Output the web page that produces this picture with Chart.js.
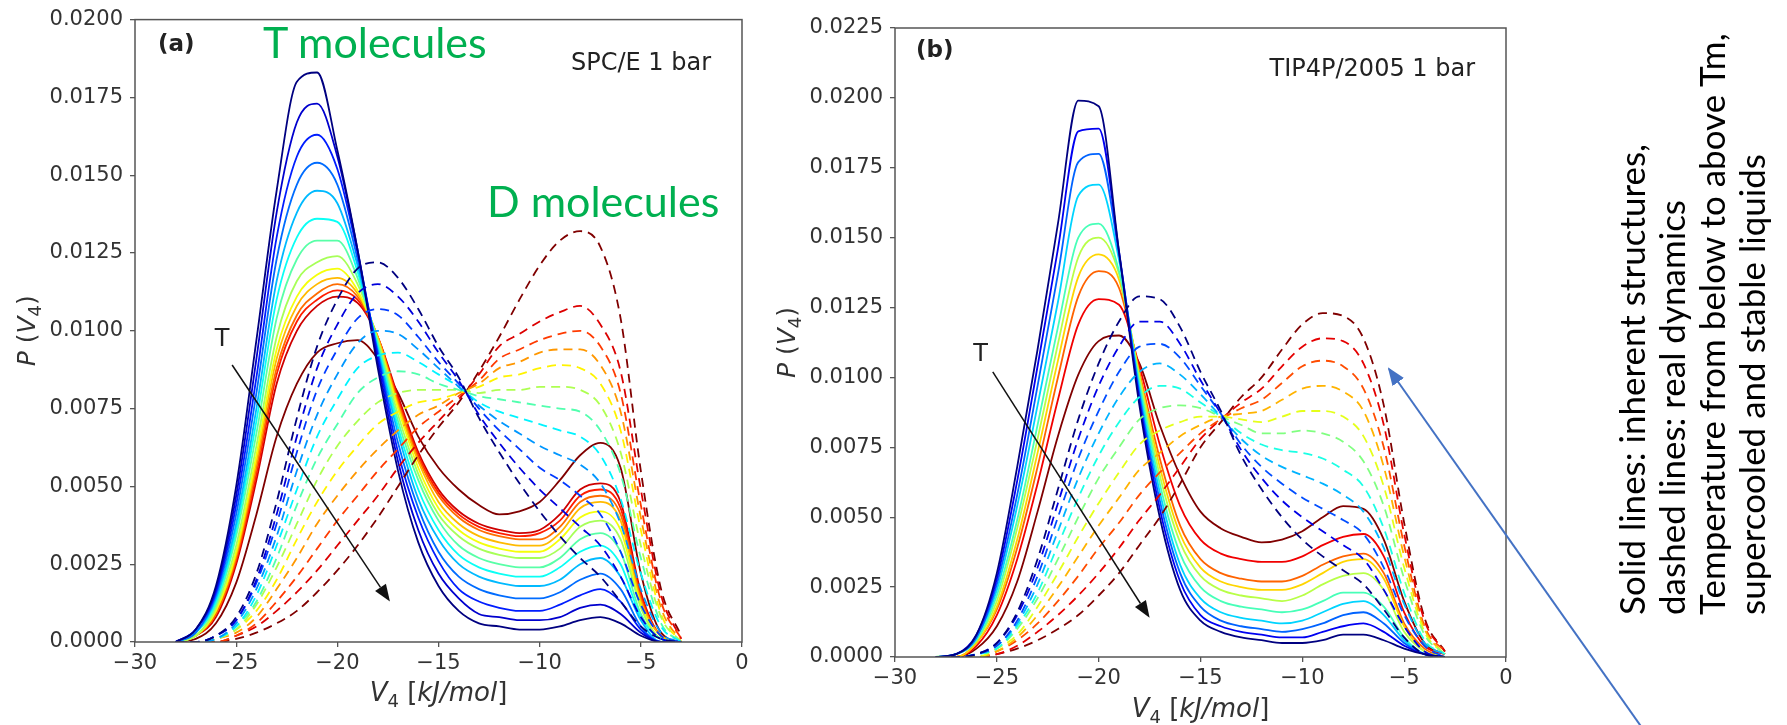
<!DOCTYPE html>
<html>
<head>
<meta charset="utf-8">
<script src="https://cdn.jsdelivr.net/npm/chart.js@4.4.1/dist/chart.umd.min.js"></script>
<style>
  html, body { margin: 0; padding: 0; background: #fff; }
  body { width: 1787px; height: 725px; position: relative; overflow: hidden; }
  canvas { position: absolute; top: 0; }
  #panelA { left: 0; }
  #panelB { left: 760px; }
  svg { position: absolute; left: 0; top: 0; }
</style>
</head>
<body>
<canvas id="panelA" width="770" height="725"></canvas>
<canvas id="panelB" width="800" height="725"></canvas>
<svg width="1787" height="725">
  <defs>
    <marker id="blueHead" markerWidth="18" markerHeight="14" refX="16" refY="7" orient="auto" markerUnits="userSpaceOnUse">
      <path d="M0,0 L18,7 L0,14 z" fill="#4472C4"/>
    </marker>
  </defs>
  <text x="263" y="58" font-family="Lato" font-size="43" fill="#00B050">T molecules</text>
  <text x="487" y="217" font-family="Lato" font-size="43" fill="#00B050">D molecules</text>
  <line x1="1645" y1="732" x2="1389" y2="369" stroke="#4472C4" stroke-width="2" marker-end="url(#blueHead)"/>
  <g font-family="Lato" font-size="35" fill="#000">
    <text transform="translate(1645,615) rotate(-90)">Solid lines: inherent structures,</text>
    <text transform="translate(1685,615) rotate(-90)">dashed lines: real dynamics</text>
    <text transform="translate(1725,615) rotate(-90)">Temperature from below to above Tm,</text>
    <text transform="translate(1765,615) rotate(-90)">supercooled and stable liquids</text>
  </g>
</svg>
<script>
// V4 grid (kJ/mol) shared by every curve
const v4 = [-28,-27,-26,-25,-24,-23,-22,-21,-20,-19,-18,-17,-16,-15,-14,-13,-12,-11,-10,-9,-8,-7,-6,-5,-4,-3];

// panel (a) SPC/E, solid = inherent structures, one row per V4 value, cold -> hot
const solidA = [
  [0,0,0,0,0,0,0,0,0,0,0,0,0,0],
  [0.0004,0.0004,0.0004,0.0003,0.0003,0.0003,0.0003,0.0002,0.0002,0.0002,0.0002,0.0002,0.0002,0.0001],
  [0.0018,0.0017,0.0016,0.0015,0.0014,0.0013,0.0012,0.0011,0.0010,0.0010,0.0009,0.0009,0.0008,0.0006],
  [0.0050,0.0047,0.0044,0.0041,0.0038,0.0036,0.0034,0.0031,0.0029,0.0028,0.0027,0.0026,0.0025,0.0019],
  [0.0097,0.0091,0.0085,0.0080,0.0075,0.0071,0.0067,0.0063,0.0060,0.0058,0.0056,0.0054,0.0052,0.0041],
  [0.0145,0.0138,0.0130,0.0123,0.0116,0.0110,0.0104,0.0098,0.0094,0.0091,0.0088,0.0086,0.0083,0.0066],
  [0.0180,0.0167,0.0156,0.0147,0.0138,0.0130,0.0123,0.0116,0.0111,0.0108,0.0105,0.0103,0.0100,0.0083],
  [0.0183,0.0173,0.0163,0.0154,0.0145,0.0136,0.0129,0.0122,0.0118,0.0115,0.0112,0.0110,0.0108,0.0093],
  [0.0158,0.0156,0.0152,0.0147,0.0141,0.0135,0.0129,0.0124,0.0120,0.0117,0.0115,0.0113,0.0111,0.0096],
  [0.0126,0.0126,0.0125,0.0123,0.0121,0.0119,0.0117,0.0115,0.0113,0.0112,0.0111,0.0110,0.0109,0.0097],
  [0.0088,0.0090,0.0092,0.0093,0.0094,0.0095,0.0096,0.0097,0.0097,0.0098,0.0098,0.0098,0.0098,0.0091],
  [0.0055,0.0058,0.0061,0.0064,0.0067,0.0069,0.0071,0.0073,0.0075,0.0076,0.0077,0.0078,0.0079,0.0080],
  [0.0032,0.0036,0.0040,0.0043,0.0046,0.0049,0.0052,0.0054,0.0056,0.0058,0.0059,0.0060,0.0061,0.0066],
  [0.0018,0.0022,0.0026,0.0029,0.0033,0.0036,0.0039,0.0041,0.0043,0.0045,0.0047,0.0048,0.0049,0.0056],
  [0.0010,0.0014,0.0017,0.0021,0.0025,0.0028,0.0031,0.0034,0.0036,0.0038,0.0040,0.0041,0.0042,0.0049],
  [0.0006,0.0009,0.0013,0.0017,0.0021,0.0024,0.0027,0.0030,0.0032,0.0034,0.0036,0.0037,0.0038,0.0044],
  [0.0005,0.0008,0.0011,0.0015,0.0019,0.0022,0.0025,0.0028,0.0030,0.0032,0.0034,0.0035,0.0036,0.0041],
  [0.0004,0.0007,0.0010,0.0014,0.0018,0.0021,0.0024,0.0027,0.0029,0.0031,0.0033,0.0034,0.0035,0.0042],
  [0.0004,0.0007,0.0010,0.0014,0.0018,0.0021,0.0024,0.0027,0.0029,0.0031,0.0033,0.0035,0.0036,0.0045],
  [0.0005,0.0008,0.0012,0.0016,0.0020,0.0024,0.0027,0.0030,0.0033,0.0035,0.0037,0.0039,0.0041,0.0052],
  [0.0007,0.0011,0.0015,0.0020,0.0025,0.0029,0.0033,0.0037,0.0040,0.0043,0.0045,0.0047,0.0049,0.0060],
  [0.0008,0.0012,0.0017,0.0022,0.0027,0.0031,0.0035,0.0039,0.0042,0.0045,0.0047,0.0049,0.0051,0.0064],
  [0.0006,0.0009,0.0013,0.0017,0.0021,0.0025,0.0029,0.0033,0.0036,0.0039,0.0041,0.0043,0.0045,0.0056],
  [0.0002,0.0003,0.0004,0.0005,0.0007,0.0008,0.0009,0.0011,0.0012,0.0013,0.0014,0.0015,0.0016,0.0022],
  [0,0,0,0,0,0.0001,0.0001,0.0001,0.0001,0.0002,0.0002,0.0002,0.0002,0.0003],
  [0,0,0,0,0,0,0,0,0,0,0,0,0,0]
];

// panel (a) SPC/E, dashed = real dynamics
const dashedA = [
  [0,0,0,0,0,0,0,0,0,0,0,0],
  [0,0,0,0,0,0,0,0,0,0,0,0],
  [0.0002,0.0002,0.0002,0.0001,0.0001,0.0001,0.0001,0.0001,0.0001,0,0,0],
  [0.0008,0.0007,0.0007,0.0006,0.0005,0.0005,0.0004,0.0004,0.0003,0.0002,0.0002,0.0001],
  [0.0022,0.0020,0.0019,0.0017,0.0015,0.0013,0.0012,0.0010,0.0008,0.0006,0.0005,0.0003],
  [0.0045,0.0041,0.0038,0.0034,0.0031,0.0027,0.0024,0.0020,0.0017,0.0013,0.0010,0.0006],
  [0.0072,0.0066,0.0061,0.0055,0.0049,0.0044,0.0038,0.0033,0.0027,0.0021,0.0016,0.0010],
  [0.0095,0.0088,0.0081,0.0073,0.0066,0.0059,0.0052,0.0045,0.0038,0.0030,0.0023,0.0016],
  [0.0110,0.0102,0.0094,0.0086,0.0078,0.0070,0.0063,0.0055,0.0047,0.0039,0.0031,0.0023],
  [0.0120,0.0112,0.0104,0.0096,0.0088,0.0080,0.0071,0.0063,0.0055,0.0047,0.0039,0.0031],
  [0.0122,0.0115,0.0107,0.0100,0.0092,0.0085,0.0077,0.0070,0.0062,0.0055,0.0047,0.0040],
  [0.0117,0.0111,0.0105,0.0099,0.0093,0.0087,0.0080,0.0074,0.0068,0.0062,0.0056,0.0050],
  [0.0107,0.0103,0.0098,0.0094,0.0090,0.0086,0.0081,0.0077,0.0073,0.0069,0.0064,0.0060],
  [0.0095,0.0093,0.0090,0.0088,0.0086,0.0083,0.0081,0.0078,0.0076,0.0074,0.0071,0.0069],
  [0.0085,0.0084,0.0083,0.0082,0.0082,0.0081,0.0081,0.0080,0.0080,0.0079,0.0078,0.0077],
  [0.0072,0.0073,0.0075,0.0076,0.0077,0.0079,0.0080,0.0082,0.0083,0.0084,0.0086,0.0087],
  [0.0061,0.0064,0.0068,0.0071,0.0074,0.0078,0.0081,0.0085,0.0088,0.0091,0.0095,0.0098],
  [0.0051,0.0056,0.0062,0.0067,0.0072,0.0077,0.0081,0.0086,0.0090,0.0094,0.0099,0.0110],
  [0.0042,0.0049,0.0056,0.0063,0.0070,0.0076,0.0082,0.0088,0.0093,0.0097,0.0103,0.0121],
  [0.0034,0.0043,0.0052,0.0060,0.0068,0.0075,0.0082,0.0089,0.0094,0.0099,0.0106,0.0129],
  [0.0027,0.0037,0.0047,0.0057,0.0066,0.0074,0.0081,0.0088,0.0094,0.0100,0.0108,0.0132],
  [0.0021,0.0031,0.0041,0.0051,0.0060,0.0068,0.0076,0.0083,0.0089,0.0095,0.0102,0.0127],
  [0.0013,0.0021,0.0029,0.0038,0.0046,0.0054,0.0061,0.0068,0.0074,0.0080,0.0087,0.0104],
  [0.0005,0.0008,0.0012,0.0017,0.0022,0.0027,0.0031,0.0036,0.0040,0.0044,0.0049,0.0055],
  [0.0001,0.0001,0.0002,0.0003,0.0005,0.0006,0.0008,0.0009,0.0011,0.0013,0.0015,0.0017],
  [0,0,0,0,0,0,0,0,0,0.0001,0.0001,0.0002]
];

// panel (b) TIP4P/2005, solid = inherent structures
const solidB = [
  [0,0,0,0,0,0,0,0,0,0],
  [0.0001,0.0001,0.0001,0.0001,0.0001,0.0001,0,0,0,0],
  [0.0008,0.0008,0.0007,0.0007,0.0006,0.0006,0.0005,0.0005,0.0004,0.0003],
  [0.0030,0.0028,0.0026,0.0024,0.0022,0.0020,0.0018,0.0017,0.0015,0.0011],
  [0.0068,0.0063,0.0058,0.0054,0.0049,0.0046,0.0042,0.0039,0.0035,0.0027],
  [0.0110,0.0104,0.0097,0.0090,0.0083,0.0078,0.0073,0.0068,0.0062,0.0052],
  [0.0155,0.0146,0.0137,0.0127,0.0118,0.0112,0.0106,0.0100,0.0092,0.0079],
  [0.0199,0.0188,0.0177,0.0165,0.0150,0.0143,0.0136,0.0129,0.0119,0.0101],
  [0.0197,0.0189,0.0180,0.0169,0.0155,0.0150,0.0144,0.0138,0.0128,0.0113],
  [0.0145,0.0145,0.0144,0.0142,0.0138,0.0137,0.0135,0.0132,0.0126,0.0115],
  [0.0090,0.0092,0.0094,0.0096,0.0098,0.0100,0.0101,0.0102,0.0104,0.0105],
  [0.0050,0.0053,0.0056,0.0059,0.0062,0.0065,0.0068,0.0071,0.0076,0.0083],
  [0.0024,0.0027,0.0030,0.0033,0.0037,0.0041,0.0044,0.0047,0.0054,0.0065],
  [0.0013,0.0015,0.0018,0.0021,0.0025,0.0029,0.0032,0.0035,0.0042,0.0052],
  [0.0009,0.0011,0.0013,0.0016,0.0020,0.0024,0.0027,0.0030,0.0037,0.0046],
  [0.0007,0.0009,0.0011,0.0014,0.0018,0.0022,0.0025,0.0028,0.0035,0.0043],
  [0.0006,0.0008,0.0010,0.0013,0.0017,0.0021,0.0024,0.0027,0.0034,0.0041],
  [0.0005,0.0007,0.0009,0.0012,0.0016,0.0020,0.0024,0.0027,0.0034,0.0042],
  [0.0005,0.0007,0.0010,0.0013,0.0017,0.0022,0.0026,0.0029,0.0036,0.0045],
  [0.0006,0.0009,0.0012,0.0016,0.0020,0.0026,0.0030,0.0033,0.0040,0.0050],
  [0.0008,0.0011,0.0015,0.0019,0.0023,0.0029,0.0034,0.0036,0.0043,0.0054],
  [0.0008,0.0012,0.0016,0.0020,0.0023,0.0030,0.0035,0.0037,0.0044,0.0053],
  [0.0006,0.0009,0.0012,0.0015,0.0018,0.0024,0.0028,0.0030,0.0036,0.0042],
  [0.0003,0.0004,0.0005,0.0006,0.0007,0.0009,0.0011,0.0012,0.0016,0.0020],
  [0.0001,0.0001,0.0001,0.0001,0.0001,0.0002,0.0002,0.0003,0.0004,0.0005],
  [0,0,0,0,0,0,0,0,0.0001,0.0001]
];

// panel (b) TIP4P/2005, dashed = real dynamics
const dashedB = [
  [0,0,0,0,0,0,0,0,0,0,0],
  [0,0,0,0,0,0,0,0,0,0,0],
  [0.0001,0.0001,0.0001,0.0001,0.0001,0.0001,0,0,0,0,0],
  [0.0005,0.0005,0.0004,0.0004,0.0003,0.0003,0.0003,0.0002,0.0002,0.0001,0.0001],
  [0.0016,0.0015,0.0013,0.0012,0.0011,0.0010,0.0008,0.0007,0.0006,0.0004,0.0003],
  [0.0035,0.0032,0.0029,0.0026,0.0023,0.0021,0.0018,0.0015,0.0012,0.0009,0.0006],
  [0.0060,0.0055,0.0050,0.0045,0.0040,0.0035,0.0030,0.0025,0.0020,0.0015,0.0010],
  [0.0085,0.0078,0.0071,0.0064,0.0057,0.0050,0.0043,0.0036,0.0029,0.0022,0.0015],
  [0.0105,0.0097,0.0088,0.0080,0.0072,0.0064,0.0055,0.0047,0.0039,0.0030,0.0022],
  [0.0120,0.0111,0.0102,0.0093,0.0084,0.0075,0.0066,0.0057,0.0048,0.0039,0.0030],
  [0.0129,0.0120,0.0111,0.0102,0.0093,0.0085,0.0076,0.0067,0.0058,0.0049,0.0040],
  [0.0128,0.0120,0.0112,0.0105,0.0097,0.0089,0.0081,0.0073,0.0066,0.0058,0.0050],
  [0.0118,0.0112,0.0107,0.0101,0.0096,0.0090,0.0084,0.0079,0.0073,0.0068,0.0062],
  [0.0102,0.0099,0.0097,0.0094,0.0091,0.0089,0.0086,0.0083,0.0080,0.0078,0.0075],
  [0.0088,0.0087,0.0087,0.0086,0.0086,0.0086,0.0086,0.0086,0.0085,0.0085,0.0084],
  [0.0072,0.0074,0.0076,0.0078,0.0080,0.0083,0.0085,0.0087,0.0089,0.0091,0.0093],
  [0.0060,0.0064,0.0068,0.0072,0.0076,0.0080,0.0084,0.0088,0.0092,0.0096,0.0100],
  [0.0050,0.0056,0.0062,0.0068,0.0074,0.0080,0.0086,0.0092,0.0098,0.0104,0.0110],
  [0.0042,0.0050,0.0057,0.0065,0.0073,0.0081,0.0088,0.0096,0.0104,0.0111,0.0119],
  [0.0036,0.0045,0.0053,0.0062,0.0071,0.0080,0.0088,0.0097,0.0106,0.0114,0.0123],
  [0.0031,0.0040,0.0049,0.0058,0.0067,0.0077,0.0086,0.0095,0.0104,0.0113,0.0122],
  [0.0026,0.0035,0.0044,0.0052,0.0061,0.0070,0.0079,0.0088,0.0096,0.0105,0.0114],
  [0.0017,0.0024,0.0032,0.0039,0.0046,0.0054,0.0061,0.0068,0.0075,0.0083,0.0090],
  [0.0007,0.0011,0.0015,0.0019,0.0023,0.0028,0.0032,0.0036,0.0040,0.0044,0.0048],
  [0.0001,0.0002,0.0004,0.0005,0.0006,0.0008,0.0009,0.0010,0.0011,0.0013,0.0014],
  [0,0,0,0.0001,0.0001,0.0001,0.0001,0.0001,0.0002,0.0002,0.0002]
];

const yTicksA = { max: 0.02, step: 0.0025 };
const yTicksB = { max: 0.0225, step: 0.0025 };
const xTicks = { min: -30, max: 0, step: 5 };

// matplotlib "jet" colormap
function jet(t) {
  const c = v => Math.round(255 * Math.max(0, Math.min(1, 1.5 - Math.abs(v))));
  return 'rgb(' + c(4 * t - 3) + ',' + c(4 * t - 2) + ',' + c(4 * t - 1) + ')';
}

function curves(rows, dashed) {
  const n = rows[0].length;
  const out = [];
  for (let j = 0; j < n; j++) {
    out.push({
      data: v4.map((x, i) => ({ x: x, y: rows[i][j] })),
      borderColor: jet(n > 1 ? j / (n - 1) : 0),
      borderWidth: 1.8,
      borderDash: dashed ? [9, 6] : [],
      pointRadius: 0,
      tension: 0.4,
      cubicInterpolationMode: 'monotone',
      fill: false
    });
  }
  return out;
}

const FONT = '"DejaVu Sans"';

function fontOf(p, size) {
  const s = p.sub ? Math.round(size * 0.7) : size;
  return (p.it ? 'italic ' : '') + s + 'px ' + FONT;
}

function drawRich(ctx, parts, size, cx, cy, angle) {
  ctx.save();
  ctx.translate(cx, cy);
  ctx.rotate(angle);
  ctx.textAlign = 'left';
  ctx.textBaseline = 'alphabetic';
  let w = 0;
  for (const p of parts) { ctx.font = fontOf(p, size); w += ctx.measureText(p.t).width; }
  let x = -w / 2;
  for (const p of parts) {
    ctx.font = fontOf(p, size);
    ctx.fillText(p.t, x, size * 0.36 + (p.sub ? size * 0.22 : 0));
    x += ctx.measureText(p.t).width;
  }
  ctx.restore();
}

function arrow(ctx, x1, y1, x2, y2) {
  const a = Math.atan2(y2 - y1, x2 - x1), L = 17, W = 6.5;
  const bx = x2 - L * Math.cos(a), by = y2 - L * Math.sin(a);
  ctx.beginPath(); ctx.moveTo(x1, y1); ctx.lineTo(bx, by); ctx.stroke();
  ctx.beginPath();
  ctx.moveTo(x2, y2);
  ctx.lineTo(bx + W * Math.sin(a), by - W * Math.cos(a));
  ctx.lineTo(bx - W * Math.sin(a), by + W * Math.cos(a));
  ctx.closePath(); ctx.fill();
}

const yTitle = [{ t: 'P', it: true }, { t: ' (' }, { t: 'V', it: true }, { t: '4', sub: true }, { t: ')' }];
const xTitle = [{ t: 'V', it: true }, { t: '4', sub: true }, { t: ' [' }, { t: 'kJ/mol', it: true }, { t: ']' }];

function deco(o) {
  return {
    id: 'deco',
    afterDatasetsDraw(chart) {
      const ctx = chart.ctx, a = chart.chartArea, sx = chart.scales.x, sy = chart.scales.y;
      ctx.save();
      ctx.strokeStyle = '#555';
      ctx.lineWidth = 1.5;
      ctx.strokeRect(a.left, a.top, a.right - a.left, a.bottom - a.top);

      ctx.fillStyle = '#222';
      ctx.textBaseline = 'middle';
      ctx.textAlign = 'left';
      ctx.font = 'bold 23px ' + FONT;
      ctx.fillText(o.letter, a.left + o.letterDx, a.top + o.letterDy);
      ctx.font = '24px ' + FONT;
      ctx.textAlign = 'right';
      ctx.fillText(o.model, a.right - 31, a.top + o.modelDy);

      ctx.textAlign = 'center';
      ctx.fillText('T', sx.getPixelForValue(o.tLabel[0]), sy.getPixelForValue(o.tLabel[1]));
      ctx.strokeStyle = '#111';
      ctx.fillStyle = '#111';
      ctx.lineWidth = 1.5;
      arrow(ctx, sx.getPixelForValue(o.tFrom[0]), sy.getPixelForValue(o.tFrom[1]),
                 sx.getPixelForValue(o.tTo[0]), sy.getPixelForValue(o.tTo[1]));

      ctx.fillStyle = '#333';
      drawRich(ctx, yTitle, 25, 26, (a.top + a.bottom) / 2, -Math.PI / 2);
      drawRich(ctx, xTitle, 26, (a.left + a.right) / 2, a.bottom + o.xTitleDy, 0);
      ctx.restore();
    }
  };
}

function makeChart(id, solid, dashed, yt, box, o) {
  const el = document.getElementById(id);
  return new Chart(el, {
    type: 'line',
    data: { datasets: curves(dashed, true).concat(curves(solid, false)) },
    options: {
      responsive: false,
      animation: false,
      devicePixelRatio: 1,
      layout: { padding: { top: box.top, right: box.right, left: 0, bottom: 0 } },
      plugins: { legend: { display: false }, tooltip: { enabled: false }, title: { display: false } },
      scales: {
        x: {
          type: 'linear', min: xTicks.min, max: xTicks.max,
          afterFit: s => { s.height = box.xh; },
          border: { display: false },
          grid: { drawOnChartArea: false, drawTicks: true, tickLength: 5, color: '#555', lineWidth: 1.3 },
          ticks: {
            stepSize: xTicks.step, padding: 4, color: '#333', font: { family: 'DejaVu Sans', size: 21 },
            maxRotation: 0,
            callback: v => (v < 0 ? '\u2212' + Math.abs(v) : String(v))
          }
        },
        y: {
          type: 'linear', min: 0, max: yt.max,
          afterFit: s => { s.width = box.yw; },
          border: { display: false },
          grid: { drawOnChartArea: false, drawTicks: true, tickLength: 5, color: '#555', lineWidth: 1.3 },
          ticks: {
            stepSize: yt.step, padding: 7, color: '#333', font: { family: 'DejaVu Sans', size: 21 },
            autoSkip: false,
            callback: v => v.toFixed(4)
          }
        }
      }
    },
    plugins: [deco(o)]
  });
}

makeChart('panelA', solidA, dashedA, yTicksA,
  { top: 17, right: 28, yw: 135, xh: 83 },
  { letter: '(a)', letterDx: 23, letterDy: 25, model: 'SPC/E 1 bar', modelDy: 44,
    tLabel: [-25.7, 0.0097], tFrom: [-25.2, 0.0089], tTo: [-17.4, 0.0013], xTitleDy: 50 });

makeChart('panelB', solidB, dashedB, yTicksB,
  { top: 28, right: 54, yw: 135, xh: 68 },
  { letter: '(b)', letterDx: 21, letterDy: 23, model: 'TIP4P/2005 1 bar', modelDy: 42,
    tLabel: [-25.8, 0.0108], tFrom: [-25.2, 0.0102], tTo: [-17.5, 0.0014], xTitleDy: 51 });
</script>
</body>
</html>
